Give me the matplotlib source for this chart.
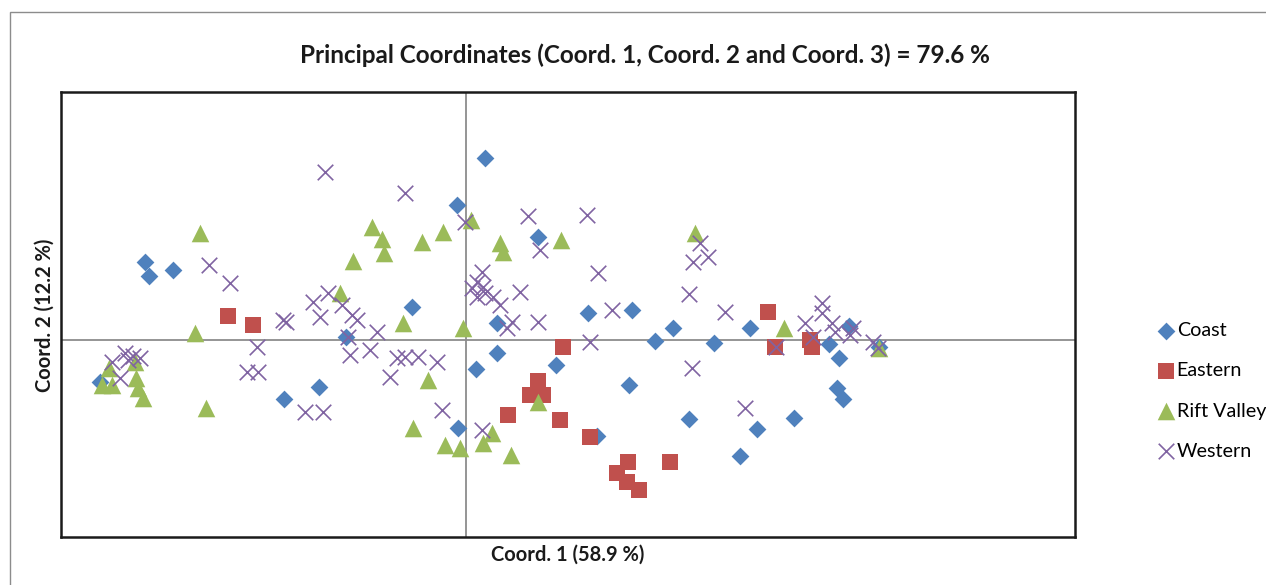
import matplotlib
matplotlib.use("Agg")
import matplotlib.pyplot as plt
from matplotlib.patches import Rectangle

plt.rcParams['font.family'] = ['Lato', 'DejaVu Sans']

# ---- data (principal coordinates, arbitrary units) ----
coast_x = [0.19, -0.09, -3.21, -3.17, -2.93, 0.72, -0.54, 0.31, -1.20, 1.22, 1.66, 2.07, 1.89, 2.48,
           2.84, 3.63, 3.73, 3.71, 3.77, 3.83, 2.23, 2.91, 3.28, 2.74, 4.13, 0.31, 0.10, 0.90, 1.63,
           -0.08, 1.31, -1.47, -1.82, -3.66]
coast_y = [1.82, 1.35, 0.78, 0.64, 0.70, 1.03, 0.33, 0.17, 0.03, 0.27, 0.30, 0.12, -0.01, -0.03,
           0.12, -0.04, -0.18, -0.48, -0.59, 0.14, -0.79, -0.89, -0.78, -1.16, -0.07, -0.13, -0.29,
           -0.25, -0.45, -0.88, -0.96, -0.47, -0.59, -0.42]

eastern_x = [-2.38, -2.13, 0.97, 0.72, 0.64, 0.77, 0.42, 0.94, 1.24, 1.62, 1.51, 1.61, 1.73, 2.04,
             3.02, 3.09, 3.44, 3.46]
eastern_y = [0.24, 0.15, -0.07, -0.41, -0.55, -0.55, -0.75, -0.80, -0.97, -1.22, -1.33, -1.42, -1.50,
             -1.22, 0.28, -0.07, 0.00, -0.07]

rift_x = [-2.66, -2.71, -2.60, -3.57, -3.64, -3.54, -3.31, -3.30, -3.28, -3.23, -0.94, -0.84, -0.82,
          -0.44, -0.23, -1.13, -1.26, -0.63, -0.38, -0.53, -0.21, -0.06, 0.05, 0.34, 0.37, 0.95,
          -0.03, 0.72, 0.26, 0.17, 0.45, 2.29, 3.18, 4.13]
rift_y = [1.07, 0.07, -0.68, -0.28, -0.45, -0.45, -0.22, -0.38, -0.48, -0.58, 1.13, 1.01, 0.87,
          0.98, 1.08, 0.79, 0.47, 0.17, -0.40, -0.88, -1.05, -1.08, 1.20, 0.97, 0.88, 1.00,
          0.12, -0.62, -0.93, -1.03, -1.15, 1.07, 0.12, -0.08]

western_x = [-2.57, -2.36, -2.09, -2.19, -2.08, -3.54, -3.41, -3.33, -3.26, -3.46, -3.38,
             -1.41, -0.61, -1.83, -1.80, -1.53, -1.38, -1.46, -1.24, -1.14, -1.09, -0.89, -1.18,
             -1.16, -0.96, -0.69, -0.61, -0.48, -0.29, -0.76, -0.24, -1.61, -1.43,
             -0.01, 0.62, 1.21, 0.74, 0.16, 0.11, 0.06, 0.17, 0.11, 0.19, 0.27, 0.34, 0.54, 0.46,
             0.41, 0.72, 1.32, 1.46, 1.24, 0.16,
             2.34, 2.27, 2.42, 2.23, 2.59, 2.26, 2.79, 3.10, 3.56, 3.56, 3.39, 3.66, 3.69, 3.87,
             3.84, 4.07, 4.12, 3.47]
western_y = [0.75, 0.57, -0.07, -0.32, -0.32, -0.22, -0.13, -0.16, -0.18, -0.38, -0.20,
             1.68, 1.47, 0.20, 0.18, 0.38, 0.47, 0.23, 0.35, 0.25, 0.20, 0.08, 0.03,
             -0.15, -0.10, -0.18, -0.17, -0.17, -0.22, -0.37, -0.70, -0.72, -0.72,
             1.18, 1.24, 1.25, 0.90, 0.68, 0.58, 0.52, 0.53, 0.43, 0.47, 0.43, 0.35, 0.48, 0.18,
             0.12, 0.18, 0.67, 0.30, -0.02, -0.90,
             0.97, 0.78, 0.83, 0.46, 0.28, -0.28, -0.68, -0.07, 0.37, 0.27, 0.17, 0.17, 0.08, 0.12,
             0.05, -0.02, -0.08, 0.03]

labels = ["Coast", "Eastern", "Rift Valley", "Western"]
title = "Principal Coordinates (Coord. 1, Coord. 2 and Coord. 3) = 79.6 %"
xlabel = "Coord. 1 (58.9 %)"
ylabel = "Coord. 2 (12.2 %)"

# ---- figure ----
W, H = 1266, 585
fig = plt.figure(figsize=(W / 100, H / 100), dpi=100)
fig.patch.set_facecolor("white")

# outer chart-area border (top and left visible)
fig.add_artist(Rectangle((10 / W, -0.1), 1.2, 1 - 12 / H + 0.1, transform=fig.transFigure,
                         fill=False, edgecolor="#8c8c8c", linewidth=1.0))

ax = fig.add_axes([61 / W, 1 - 537 / H, (1075 - 61) / W, (537 - 92) / H])
ax.set_xlim(-4.05, 6.09)
ax.set_ylim(-1.97, 2.48)
ax.set_xticks([])
ax.set_yticks([])
for s in ax.spines.values():
    s.set_linewidth(1.8)
    s.set_color("#1a1a1a")

ax.axhline(0, color="#8c8c8c", linewidth=1.3, zorder=1)
ax.axvline(0, color="#8c8c8c", linewidth=1.3, zorder=1)

ax.scatter(coast_x, coast_y, marker="D", s=82, color="#4F81BD", linewidths=0, label=labels[0], zorder=3)
ax.scatter(eastern_x, eastern_y, marker="s", s=118, color="#C0504D", linewidths=0, label=labels[1], zorder=4)
ax.scatter(rift_x, rift_y, marker="^", s=160, color="#9BBB59", linewidths=0, label=labels[2], zorder=5)
ax.scatter(western_x, western_y, marker="x", s=125, color="#8064A2", linewidths=1.2, label=labels[3], zorder=6)

fig.text(645 / W, 1 - 55 / H, title, ha="center", va="center", fontsize=17.5, fontweight="bold",
         color="#1a1a1a")
fig.text(568 / W, 1 - 555 / H, xlabel, ha="center", va="center", fontsize=14.5, fontweight="bold",
         color="#1a1a1a")
fig.text(45 / W, 1 - 315 / H, ylabel, ha="center", va="center", rotation=90, fontsize=14.5,
         fontweight="bold", color="#1a1a1a")

leg = fig.legend(loc="center left", bbox_to_anchor=(1156 / W, 1 - 391 / H), frameon=False,
                 fontsize=14.2, labelspacing=1.17, handletextpad=0.05, handlelength=1.0,
                 borderaxespad=0, borderpad=0, scatterpoints=1)

fig.savefig("out.png", dpi=100, facecolor="white")
